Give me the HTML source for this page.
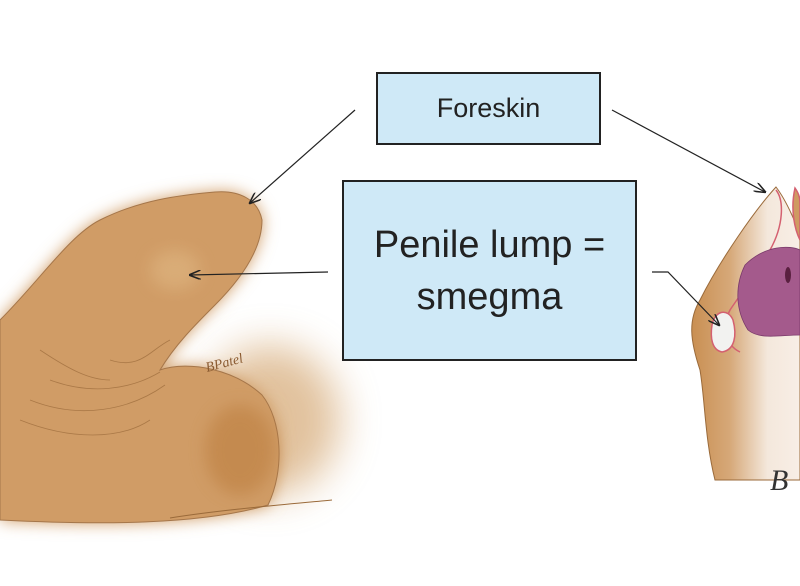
<!DOCTYPE html>
<html><head><meta charset="utf-8"><style>
html,body{margin:0;padding:0;background:#fff;width:800px;height:586px;overflow:hidden}
.box{position:absolute;background:#cfe9f7;border:2px solid #222;box-sizing:border-box;display:flex;align-items:center;justify-content:center;text-align:center;font-family:"Liberation Sans",sans-serif;color:#222}
</style></head><body>
<svg width="800" height="586" style="position:absolute;left:0;top:0">
<defs>
<filter id="b8" x="-30%" y="-30%" width="160%" height="160%"><feGaussianBlur stdDeviation="8"/></filter>
<filter id="b20" x="-50%" y="-50%" width="200%" height="200%"><feGaussianBlur stdDeviation="20"/></filter>
<linearGradient id="rg" x1="0" x2="1" y1="0" y2="0"><stop offset="0" stop-color="#c98f52"/><stop offset="0.35" stop-color="#d6a878"/><stop offset="0.7" stop-color="#f4e8dc"/><stop offset="1" stop-color="#f8eee6"/></linearGradient>
<marker id="ah" markerWidth="10" markerHeight="8" refX="9" refY="4" orient="auto"><path d="M0,0 L10,4 L0,8" fill="none" stroke="#222" stroke-width="1.3"/></marker>
</defs>
<ellipse cx="270" cy="420" rx="70" ry="75" fill="#c9904e" opacity="0.55" filter="url(#b20)"/>
<path d="M0,320 C40,280 70,235 100,220 C140,200 180,195 215,192 C240,190 258,200 262,220 C262,250 240,280 215,305 C195,325 175,345 160,370 C190,360 235,370 262,395 C282,420 285,470 268,505 C200,525 100,525 0,520 Z" fill="#cf9a62" filter="url(#b8)"/>
<path d="M0,320 C40,280 70,235 100,220 C140,200 180,195 215,192 C240,190 258,200 262,220 C262,250 240,280 215,305 C195,325 175,345 160,370 C190,360 235,370 262,395 C282,420 285,470 268,505 C200,525 100,525 0,520 Z" fill="#d09c66" stroke="#a5764a" stroke-width="1"/>
<ellipse cx="240" cy="450" rx="35" ry="45" fill="#bd7f40" opacity="0.6" filter="url(#b8)"/>
<ellipse cx="175" cy="270" rx="25" ry="20" fill="#dcb07c" opacity="0.8" filter="url(#b8)"/>
<g fill="none" stroke="#9a6a3a" stroke-width="0.8" opacity="0.7">
<path d="M50,380 C90,395 130,390 160,372"/><path d="M30,400 C80,420 130,410 165,385"/><path d="M20,420 C70,440 120,440 150,420"/><path d="M40,350 C70,370 90,380 110,380"/><path d="M110,360 C140,370 150,350 170,340"/>
</g>
<path d="M170,518 C220,510 280,505 332,500" stroke="#9a6a3a" stroke-width="1" fill="none"/>
<text x="207" y="372" font-family="Liberation Serif,serif" font-style="italic" font-size="14" fill="#8a5a30" transform="rotate(-15 207 372)">BPatel</text>
<!-- right -->
<path d="M776,187 C786,200 800,230 800,240 L800,480 L715,480 C705,440 705,400 700,370 C690,340 688,320 700,300 C720,260 755,210 776,187 Z" fill="url(#rg)" stroke="#9a6a3a" stroke-width="1"/>
<path d="M776,190 C784,200 784,225 770,250 C755,275 740,295 730,310 C722,325 725,345 740,352" fill="none" stroke="#d46070" stroke-width="1.5"/>
<path d="M795,188 C800,195 800,200 800,205 L800,240 C795,230 790,210 795,188Z" fill="#cf9a62" stroke="#d46070" stroke-width="1.5"/>
<path d="M745,265 C765,245 790,245 800,250 L800,335 C780,335 760,340 748,330 C735,310 735,285 745,265Z" fill="#a45a8c" stroke="#7a3a6a" stroke-width="0.8"/>
<ellipse cx="788" cy="275" rx="3" ry="8" fill="#5a2040"/>
<path d="M712,325 C715,310 728,308 733,320 C737,335 735,350 722,352 C712,350 710,338 712,325Z" fill="#f2f2f0" stroke="#d46070" stroke-width="1.5"/>
<text x="770" y="490" font-family="Liberation Serif,serif" font-style="italic" font-size="30" fill="#333">B</text>
<g stroke="#222" stroke-width="1.2" fill="none" marker-end="url(#ah)">
<path d="M355,110 L250,203"/>
<path d="M612,110 L765,192"/>
<path d="M328,272 L190,275"/>
<path d="M652,272 L668,272 L719,325"/>
</g>
</svg>
<div class="box" style="left:376px;top:72px;width:225px;height:73px;font-size:27px">Foreskin</div>
<div class="box" style="left:342px;top:180px;width:295px;height:181px;font-size:38px;line-height:52px">Penile lump =<br>smegma</div>
</body></html>
